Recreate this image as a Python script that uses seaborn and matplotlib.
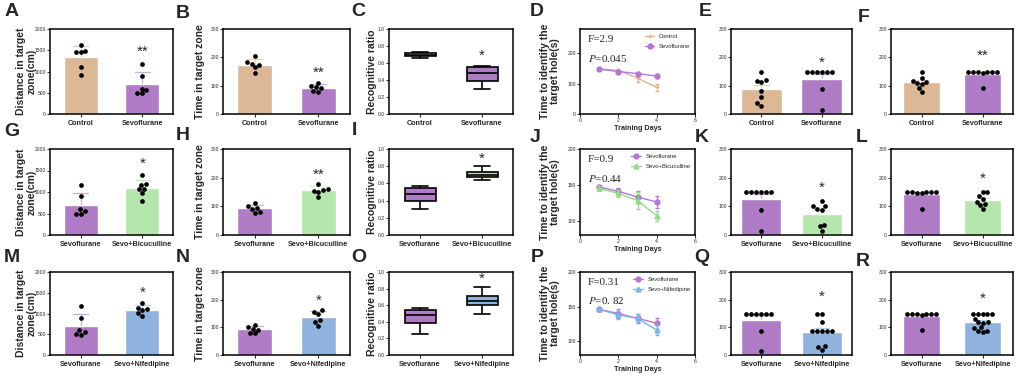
import matplotlib
matplotlib.use("Agg")
import matplotlib.pyplot as plt
import matplotlib.colors as mcolors
import numpy as np
import pandas as pd
import seaborn as sns

sns.set_style("ticks")
plt.rcParams['font.family'] = ['Liberation Sans', 'DejaVu Sans']
plt.rcParams['mathtext.fontset'] = 'stix'

# ======== colours ========
C_CTRL = '#dcb897'
C_SEVO = '#b07cc6'
C_BIC = '#b4e6ad'
C_NIF = '#8fb3dc'
L_CTRL = '#e2b58e'
L_SEVO = '#b477d0'
L_BIC = '#96d98c'
L_NIF = '#7fb2e5'

# ======== data ========
groups_ctrl = ['Control', 'Sevoflurane']
groups_bic = ['Sevoflurane', 'Sevo+Bicuculline']
groups_nif = ['Sevoflurane', 'Sevo+Nifedipine']

# distance in target zone (cm)
dist_ctrl = [1630, 1490, 1450, 1450, 1110, 910]
dist_sevo = [1170, 900, 600, 560, 500, 490]
dist_bic = [1400, 1180, 1170, 1080, 1060, 980, 790]
dist_nif = [1250, 1140, 1110, 1080, 1010, 950]

# time in target zone
time_ctrl = [205, 182, 178, 172, 165, 143]
time_sevo = [110, 100, 95, 92, 80, 78]
time_bic = [178, 160, 158, 155, 150, 133]
time_nif = [162, 156, 150, 125, 118, 105]

# recognitive ratio
ratio_ctrl = [0.66, 0.685, 0.70, 0.72, 0.73]
ratio_sevo = [0.30, 0.39, 0.48, 0.55, 0.565]
ratio_sevo_o = [0.25, 0.39, 0.48, 0.545, 0.565]
ratio_bic = [0.64, 0.67, 0.70, 0.73, 0.80]
ratio_nif = [0.50, 0.60, 0.645, 0.715, 0.82]

# time to identify the target hole (s), training days 1-4
days = [1, 2, 3, 4]
hole_ctrl = [148, 144, 118, 88]
hole_ctrl_err = [4, 5, 11, 11]
hole_sevo_d = [148, 140, 133, 125]
hole_sevo_d_err = [4, 6, 7, 7]
hole_sevo_j = [147, 141, 133, 126]
hole_sevo_j_err = [3, 5, 8, 8]
hole_bic = [145, 138, 128, 107]
hole_bic_err = [3, 5, 12, 7]
hole_sevo_p = [146, 140, 133, 126]
hole_sevo_p_err = [2, 6, 7, 8]
hole_nif = [146, 138, 133, 116]
hole_nif_err = [2, 6, 6, 7]

# panels E/F, K/L, Q/R
e_ctrl = [150, 120, 118, 112, 80, 60, 40, 30]
e_sevo = [150, 150, 150, 150, 150, 150, 88, 14]
f_ctrl = [150, 128, 118, 112, 108, 105, 92, 78]
f_sevo = [150, 150, 150, 150, 148, 145, 150, 92]
k_bic = [120, 102, 100, 90, 88, 36, 30, 15]
l_bic = [150, 150, 135, 125, 115, 108, 105, 90]
q_nif = [150, 150, 120, 88, 88, 86, 86, 86, 32, 30, 18]
r_nif = [150, 150, 150, 150, 148, 130, 120, 118, 115, 100, 98, 88, 86, 84]

stats_F = ['F=2.9', 'F=0.9', 'F=0.31']
stats_P = [r'$P$=0.045', r'$P$=0.44', r'$P$=0. 82']

W, H = 1021, 378
fig = plt.figure(figsize=(W / 100, H / 100), dpi=100)

col_x = [(50, 173), (223, 350), (389, 513), (580, 695), (731, 852), (891, 1013)]
row_y = [(29, 114), (149, 235), (272, 355)]


def make_ax(r, c):
    x0, x1 = col_x[c]
    y0, y1 = row_y[r]
    return fig.add_axes([x0 / W, 1 - y1 / H, (x1 - x0) / W, (y1 - y0) / H])


def lighten(c, amt=0.45):
    rgb = np.array(mcolors.to_rgb(c))
    return tuple(rgb + (1 - rgb) * amt)


def long_df(groups, values):
    return pd.DataFrame({'group': np.repeat(groups, [len(v) for v in values]),
                         'value': np.concatenate(values)})


def style_ax(ax, ymax, yticks, fmt=None):
    ax.set_ylim(0, ymax)
    ax.set_yticks(yticks)
    if fmt:
        ax.set_yticklabels([fmt.format(t) for t in yticks])
    for s in ax.spines.values():
        s.set_visible(True)
        s.set_linewidth(1.1)
        s.set_color('black')
    ax.tick_params(axis='y', labelsize=3.6, length=2, width=0.7, pad=1)
    ax.tick_params(axis='x', labelsize=5.2, length=2.5, width=0.8, pad=1.5)
    for lbl in ax.get_xticklabels():
        lbl.set_fontweight('bold')
    ax.set_xlabel('')


def bar_panel(ax, groups, values, colors, err, width, ymax, yticks, star, star_y):
    df = long_df(groups, values)
    sns.barplot(data=df, x='group', y='value', hue='group', palette=dict(zip(groups, colors)),
                errorbar=err, capsize=0.25, width=width, saturation=1, legend=False,
                err_kws={'linewidth': 0.9}, ax=ax)
    for line, c in zip(ax.lines, colors):
        line.set_color(lighten(c, 0.35))
        line.set_zorder(0.5)
    sns.swarmplot(data=df, x='group', y='value', color='black', size=3.4, ax=ax)
    ax.text(1, star_y, star, ha='center', va='center', fontsize=11)
    style_ax(ax, ymax, yticks)
    ax.set_ylabel('')


def box_panel(ax, groups, values, colors, star_y):
    df = long_df(groups, values)
    sns.boxplot(data=df, x='group', y='value', hue='group', palette=dict(zip(groups, colors)),
                whis=(0, 100), width=0.5, linewidth=1.2, linecolor='black', saturation=1,
                legend=False, ax=ax)
    ax.text(1, star_y, '*', ha='center', va='center', fontsize=11)
    style_ax(ax, 1.0, [0, 0.2, 0.4, 0.6, 0.8, 1.0], '{:.1f}')
    ax.set_ylabel('Recognitive ratio', fontsize=7.5, fontweight='bold')
    ax.yaxis.set_label_coords(-0.1, 0.5)


def line_panel(ax, series, ylim, yticks, idx):
    for name, means, errs, color, marker in series:
        sns.lineplot(x=days, y=means, color=color, marker=marker, markersize=3.5,
                     markeredgecolor=color, markeredgewidth=1, linewidth=1, label=name, ax=ax)
        ax.errorbar(days, means, yerr=errs, fmt='none', ecolor=color, elinewidth=0.8, capsize=1.5)
    ax.set_xlim(0, 6)
    ax.set_xticks([0, 2, 4, 6])
    ax.set_ylim(*ylim)
    ax.set_yticks(yticks)
    for s in ax.spines.values():
        s.set_visible(True)
        s.set_linewidth(1.1)
        s.set_color('black')
    ax.tick_params(labelsize=3.6, length=2, width=0.7, pad=1)
    ax.set_xlabel('Training Days', fontsize=5.2, fontweight='bold', labelpad=1)
    ax.set_ylabel('Time to identify the\ntarget hole(s)', fontsize=7.5, fontweight='bold',
                  linespacing=1.0)
    ax.yaxis.set_label_coords(-0.17, 0.5)
    ax.legend(loc='upper right', frameon=False, fontsize=4.2, handlelength=1.6,
              borderaxespad=0.4, labelspacing=0.9)
    ax.text(0.07, 0.93, stats_F[idx], transform=ax.transAxes, ha='left', va='top',
            fontsize=8, family='Liberation Serif')
    ax.text(0.07, 0.72, stats_P[idx], transform=ax.transAxes, ha='left', va='top',
            fontsize=8, family='Liberation Serif')


dist_ticks = [0, 500, 1000, 1500, 2000]
time_ticks = [0, 100, 200, 300]

# ======== row 1 ========
ax = make_ax(0, 0)
bar_panel(ax, groups_ctrl, [dist_ctrl, dist_sevo], [C_CTRL, C_SEVO], 'sd', 0.55, 2000, dist_ticks, '**', 1470)
ax.set_ylabel('Distance in target\nzone(cm)', fontsize=7.5, fontweight='bold', linespacing=1.0)
ax.yaxis.set_label_coords(-0.11, 0.5)
ax = make_ax(0, 1)
bar_panel(ax, groups_ctrl, [time_ctrl, time_sevo], [C_CTRL, C_SEVO], 'sd', 0.55, 300, time_ticks, '**', 146)
ax.set_ylabel('Time in target zone', fontsize=7.5, fontweight='bold')
ax.yaxis.set_label_coords(-0.14, 0.5)
ax = make_ax(0, 2)
box_panel(ax, groups_ctrl, [ratio_ctrl, ratio_sevo], ['white', C_SEVO], 0.68)
ax = make_ax(0, 3)
line_panel(ax, [('Control', hole_ctrl, hole_ctrl_err, L_CTRL, '+'),
                ('Sevoflurane', hole_sevo_d, hole_sevo_d_err, L_SEVO, 'o')], (0, 280), [0, 100, 200], 0)
ax = make_ax(0, 4)
bar_panel(ax, groups_ctrl, [e_ctrl, e_sevo], [C_CTRL, C_SEVO], 'se', 0.68, 300, time_ticks, '*', 181)
ax = make_ax(0, 5)
bar_panel(ax, groups_ctrl, [f_ctrl, f_sevo], [C_CTRL, C_SEVO], 'se', 0.62, 300, time_ticks, '**', 204)

# ======== row 2 ========
ax = make_ax(1, 0)
bar_panel(ax, groups_bic, [dist_sevo, dist_bic], [C_SEVO, C_BIC], 'sd', 0.55, 2000, dist_ticks, '*', 1664)
ax.set_ylabel('Distance in target\nzone(cm)', fontsize=7.5, fontweight='bold', linespacing=1.0)
ax.yaxis.set_label_coords(-0.11, 0.5)
ax = make_ax(1, 1)
bar_panel(ax, groups_bic, [time_sevo, time_bic], [C_SEVO, C_BIC], 'sd', 0.55, 300, time_ticks, '**', 210)
ax.set_ylabel('Time in target zone', fontsize=7.5, fontweight='bold')
ax.yaxis.set_label_coords(-0.14, 0.5)
ax = make_ax(1, 2)
box_panel(ax, groups_bic, [ratio_sevo, ratio_bic], [C_SEVO, C_BIC], 0.89)
ax = make_ax(1, 3)
line_panel(ax, [('Sevoflurane', hole_sevo_j, hole_sevo_j_err, L_SEVO, 'o'),
                ('Sevo+Bicuculline', hole_bic, hole_bic_err, L_BIC, '^')], (80, 200), [100, 150, 200], 1)
ax = make_ax(1, 4)
bar_panel(ax, groups_bic, [e_sevo, k_bic], [C_SEVO, C_BIC], 'se', 0.66, 300, time_ticks, '*', 164)
ax = make_ax(1, 5)
bar_panel(ax, groups_bic, [f_sevo, l_bic], [C_SEVO, C_BIC], 'se', 0.62, 300, time_ticks, '*', 196)

# ======== row 3 ========
ax = make_ax(2, 0)
bar_panel(ax, groups_nif, [dist_sevo, dist_nif], [C_SEVO, C_NIF], 'sd', 0.55, 2000, dist_ticks, '*', 1496)
ax.set_ylabel('Distance in target\nzone(cm)', fontsize=7.5, fontweight='bold', linespacing=1.0)
ax.yaxis.set_label_coords(-0.11, 0.5)
ax = make_ax(2, 1)
bar_panel(ax, groups_nif, [time_sevo, time_nif], [C_SEVO, C_NIF], 'sd', 0.55, 300, time_ticks, '*', 197)
ax.set_ylabel('Time in target zone', fontsize=7.5, fontweight='bold')
ax.yaxis.set_label_coords(-0.14, 0.5)
ax = make_ax(2, 2)
box_panel(ax, groups_nif, [ratio_sevo_o, ratio_nif], [C_SEVO, C_NIF], 0.92)
ax = make_ax(2, 3)
line_panel(ax, [('Sevoflurane', hole_sevo_p, hole_sevo_p_err, L_SEVO, 'o'),
                ('Sevo+Nifedipine', hole_nif, hole_nif_err, L_NIF, '^')], (80, 200), [100, 150, 200], 2)
ax = make_ax(2, 4)
bar_panel(ax, groups_nif, [e_sevo, q_nif], [C_SEVO, C_NIF], 'se', 0.66, 300, time_ticks, '*', 212)
ax = make_ax(2, 5)
bar_panel(ax, groups_nif, [f_sevo, r_nif], [C_SEVO, C_NIF], 'se', 0.62, 300, time_ticks, '*', 202)

# ======== panel letters ========
letters = list('ABCDEFGHIJKLMNOPQR')
letter_pos = [(12, 12), (183, 13), (358, 12), (537, 12), (705, 12), (864, 17),
              (12, 132), (183, 135), (354, 131), (535, 138), (702, 137), (862, 137),
              (12, 258), (183, 258), (359, 258), (537, 258), (702, 258), (863, 262)]
for lt, (px, py) in zip(letters, letter_pos):
    fig.text(px / W, 1 - py / H, lt, ha='center', va='center', fontsize=14, fontweight='bold')

fig.savefig('out.png', dpi=100)
